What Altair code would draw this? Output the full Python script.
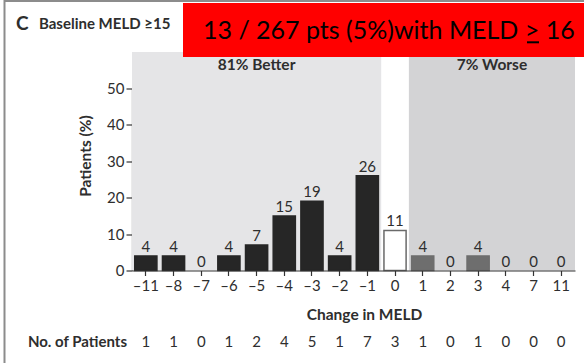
import altair as alt
import pandas as pd

# Change in MELD score (x categories), share of patients (%) and patient counts
changes = ["\u201311", "\u20138", "\u20137", "\u20136", "\u20135", "\u20134", "\u20133",
           "\u20132", "\u20131", "0", "1", "2", "3", "4", "7", "11"]
pct = [4, 4, 0, 4, 7, 15, 19, 4, 26, 11, 4, 0, 4, 0, 0, 0]
n_pts = [1, 1, 0, 1, 2, 4, 5, 1, 7, 3, 1, 0, 1, 0, 0, 0]
groups = ["better"] * 9 + ["same"] + ["worse"] * 6

# Shaded "better" / "worse" regions
band_labels = ["81% Better", "7% Worse"]
band_start = ["\u201311", "1"]
band_end = ["\u20131", "11"]
band_fill = ["#e5e5e7", "#d3d3d5"]

FONT = "Lato"
INK = "#2e2e2e"
FS = 15

df = pd.DataFrame({"change": changes, "pct": pct, "n": n_pts, "group": groups})
bands = pd.DataFrame({"label": band_labels, "start": band_start,
                      "end": band_end, "fill": band_fill})

xscale = alt.Scale(domain=changes, paddingInner=0, paddingOuter=0)
yscale = alt.Scale(domain=[0, 50])

x_axis = alt.Axis(title="Change in MELD", labelAngle=0, tickSize=5,
                  labelPadding=3, titleX=232, titleY=44,
                  titleAlign="center", titleBaseline="middle")
y_axis = alt.Axis(title="Patients (%)", values=[0, 10, 20, 30, 40, 50],
                  tickSize=6, labelPadding=2, titleX=-47, titleY=67,
                  titleAlign="center", titleBaseline="middle")

band_rects = alt.Chart(bands).mark_rect().encode(
    x=alt.X("start:N", scale=xscale, bandPosition=0, axis=x_axis),
    x2=alt.X2("end:N", bandPosition=1),
    y=alt.YDatum(0, scale=yscale, axis=y_axis),
    y2=alt.Y2Datum(60),
    color=alt.Color("fill:N", scale=None),
)

better_text = alt.Chart(bands.iloc[[0]]).mark_text(
    fontSize=15.5, fontWeight="bold", color=INK, baseline="middle").encode(
    x=alt.X("mid:N", scale=xscale, bandPosition=0.5, axis=x_axis),
    y=alt.value(-23.5),
    text="label:N",
).transform_calculate(mid="'\u20135'")

worse_text = alt.Chart(bands.iloc[[1]]).mark_text(
    fontSize=15.5, fontWeight="bold", color=INK, baseline="middle").encode(
    x=alt.X("mid:N", scale=xscale, bandPosition=0, axis=x_axis),
    y=alt.value(-23.5),
    text="label:N",
).transform_calculate(mid="'4'")

bars = alt.Chart(df).transform_filter("datum.pct > 0").mark_bar(
    strokeWidth=1.5, width=alt.RelativeBandSize(0.8)).encode(
    x=alt.X("change:N", scale=xscale, sort=changes, axis=x_axis),
    y=alt.Y("pct:Q", scale=yscale, axis=y_axis),
    color=alt.Color("group:N", legend=None,
                    scale=alt.Scale(domain=["better", "same", "worse"],
                                    range=["#262626", "#ffffff", "#6e6e6e"])),
    stroke=alt.Stroke("group:N", legend=None,
                      scale=alt.Scale(domain=["better", "same", "worse"],
                                      range=["#262626", "#6a6a6a", "#6e6e6e"])),
)

bar_labels = alt.Chart(df).mark_text(fontSize=FS, color=INK, baseline="alphabetic", dy=-4).encode(
    x=alt.X("change:N", scale=xscale, sort=changes, axis=x_axis),
    y=alt.Y("pct:Q", scale=yscale, axis=y_axis),
    text="pct:Q",
)

count_row = alt.Chart(df).mark_text(fontSize=FS, color=INK, baseline="middle").encode(
    x=alt.X("change:N", scale=xscale, sort=changes, axis=x_axis),
    y=alt.value(253),
    text="n:Q",
)

one = pd.DataFrame({"k": [0]})

count_title = alt.Chart(one).mark_text(fontSize=FS, fontWeight="bold", color=INK,
                                       align="right", baseline="middle").encode(
    x=alt.value(-5), y=alt.value(253), text=alt.value("No. of Patients"))

panel_letter = alt.Chart(one).mark_text(fontSize=19, fontWeight="bold", color=INK,
                                        align="left", baseline="middle").encode(
    x=alt.value(-116), y=alt.value(-65), text=alt.value("C"))

panel_title = alt.Chart(one).mark_text(fontSize=FS, fontWeight="bold", color=INK,
                                       align="left", baseline="middle").encode(
    x=alt.value(-93), y=alt.value(-64.5), text=alt.value("Baseline MELD \u226515"))

frame_top = alt.Chart(one).mark_rule(color="#8c8c8c", strokeWidth=2).encode(
    x=alt.value(-128), x2=alt.value(452), y=alt.value(-87.5))
frame_left = alt.Chart(one).mark_rule(color="#8c8c8c", strokeWidth=2).encode(
    x=alt.value(-127.5), y=alt.value(-88.5), y2=alt.value(274.5))

callout_box = alt.Chart(one).mark_rect(color="#ff0000").encode(
    x=alt.value(51), x2=alt.value(452), y=alt.value(-85.5), y2=alt.value(-31.5))
callout_text = alt.Chart(one).mark_text(fontSize=25, color="#000000", font="Lato",
                                        align="left", baseline="middle").encode(
    x=alt.value(71), y=alt.value(-57.5),
    text=alt.value("13 / 267 pts (5%)with MELD > 16"))
# underline beneath the ">" sign
callout_underline = alt.Chart(one).mark_rule(color="#000000", strokeWidth=2).encode(
    x=alt.value(395), x2=alt.value(407), y=alt.value(-46.2))

chart = alt.layer(
    band_rects, better_text, worse_text, bars, bar_labels, count_row, count_title,
    frame_top, frame_left, callout_box, callout_text, callout_underline,
    panel_letter, panel_title,
).properties(
    width=443, height=182,
    autosize=alt.AutoSizeParams(type="none"),
    padding={"left": 132, "top": 88.5, "right": 9, "bottom": 92.5},
).configure(
    font=FONT,
).configure_view(
    stroke=None,
).configure_axis(
    grid=False, domainColor="#333333", tickColor="#333333", labelColor=INK,
    titleColor=INK, labelFontSize=FS, titleFontSize=15.5, titleFontWeight="bold",
    labelFont=FONT, titleFont=FONT, domainWidth=1.2, tickWidth=1.2,
)

chart.save("out.html", embed_options={"renderer": "svg", "actions": False})
